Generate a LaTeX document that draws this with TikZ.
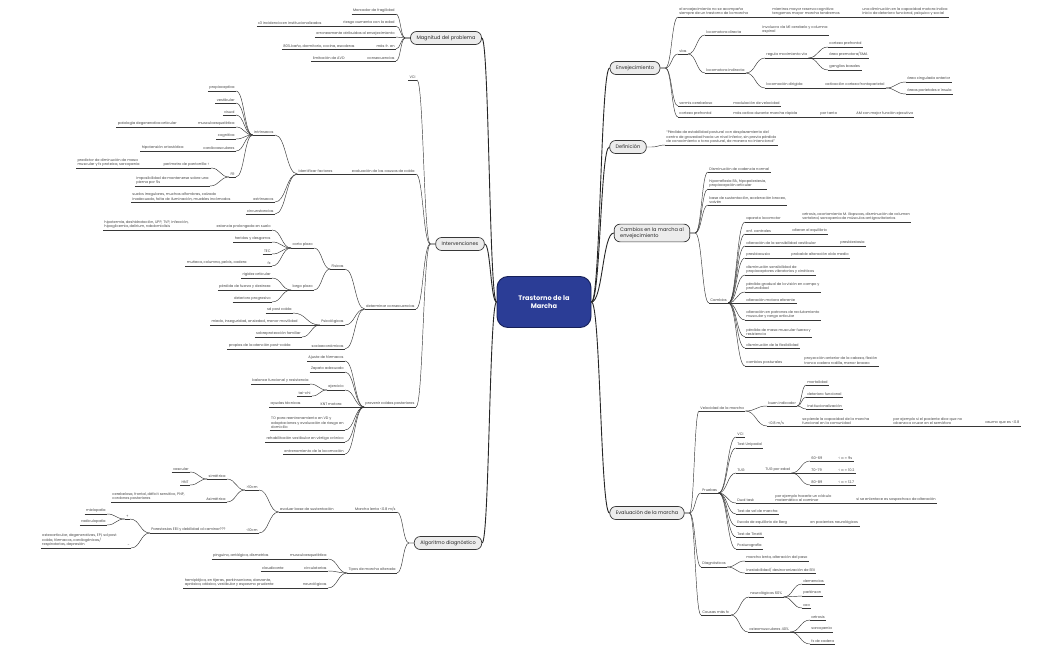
\documentclass[tikz,border=0pt]{standalone}
\usepackage{fontspec}
\setmainfont{Poppins}
\usepackage{tikz}
\usetikzlibrary{positioning,calc}
\definecolor{inkgrey}{RGB}{70,70,70}
\definecolor{linegrey}{RGB}{55,55,55}
\definecolor{topicfill}{RGB}{236,236,236}
\definecolor{rootblue}{RGB}{43,61,150}
\definecolor{rootedge}{RGB}{22,32,88}
\newcommand{\lffont}{\fontsize{3.6}{4.5}\selectfont}
\tikzset{
  lf/.style   ={font=\lffont, text=inkgrey, align=left, inner xsep=1.2pt, inner ysep=0.9pt,
                append after command={(\tikzlastnode.south west) edge[draw=linegrey, line width=0.45pt] (\tikzlastnode.south east)}},
  lfl/.style  ={lf, anchor=south east},
  lfr/.style  ={lf, anchor=south west},
  topic/.style={draw=linegrey, fill=topicfill, rounded corners=6pt, line width=0.7pt, align=left,
                font=\fontsize{5}{6}\selectfont, text=black!85, inner xsep=6pt, minimum height=13pt},
  root/.style ={draw=rootedge, fill=rootblue, rounded corners=11pt, line width=0.9pt, align=center,
                font=\fontsize{6.6}{8.4}\selectfont\bfseries, text=white, minimum width=94pt, minimum height=51pt},
  lnk/.style  ={to path={let \p1=(\tikztostart), \p2=(\tikztotarget) in
                .. controls ({(\x1+\x2)/2},\y1) and ({(\x1+\x2)/2},\y2) .. (\tikztotarget)}},
  cn/.style   ={draw=linegrey, line width=0.45pt},
  mcn/.style  ={draw=black!85, line width=0.9pt},
}

\begin{document}
\begin{tikzpicture}[x=1pt,y=-1pt]
\fill[white] (0,0) rectangle (1050,650);
\useasboundingbox (0,0) rectangle (1050,650);

\node[root] (root) at (544,302) {Trastorno de la\\Marcha};

% left side
\node[topic] (mag) at (446,38) {Magnitud del problema};
\node[lfl] (m1) at (396,14) {Marcador de fragilidad};
\node[lfl] (m2) at (396,26) {riesgo aumenta con la edad};
\node[lfl] (m2a) at (323,26) {x3 incidencia en institucionalizados};
\node[lfl] (m3) at (396,37) {erroneamente atribuidas al envejecimiento};
\node[lfl] (m4) at (396,49) {más fr. en};
\node[lfl] (m4a) at (356,49) {80\% baño, dormitorio, cocina, escaleras};
\node[lfl] (m5) at (396,61) {consecuencias};
\node[lfl] (m5a) at (346,61) {limitación de AVD};

\node[topic] (int) at (460,244) {Intervenciones};
\node[lfl] (vci) at (417,80) {VCI};
\node[lfl] (eva) at (416,174) {evaluación de las causas de caída};
\node[lfl] (idf) at (334,174) {Identificar factores};
\node[lfl] (intr) at (275,135) {intrínsecos};
\node[lfl] (prop) at (236,91) {propioceptiva};
\node[lfl] (vest) at (236,103) {vestibular};
\node[lfl] (visu) at (236,115) {visual};
\node[lfl] (musc) at (236,127) {musculoesquelética};
\node[lfl] (pdeg) at (178,127) {patología degenerativa articular};
\node[lfl] (cogn) at (236,139) {cognitiva};
\node[lfl] (card) at (236,151) {cardiovasculares};
\node[lfl] (hipo) at (185,151) {hipotensión ortostática};
\node[lfl] (fr) at (236,177) {FR};
\node[lfl] (pant) at (211,168) {perímetro de pantorrilla <};
\node[lfl] (pred) at (141,168) {predictor de diminución de masa\\muscular y fx proteica, sarcopenia};
\node[lfl] (mono) at (210,186) {imposibilidad de mantenerse sobre una\\pierna por 5s};
\node[lfl] (extr) at (275,202) {extrínsecos};
\node[lfl] (suel) at (232,202) {suelos irregulares, muchas alfombras, calzado\\inadecuado, falta de iluminación, muebles incómodos};
\node[lfl] (circ) at (275,214) {circunstancias};

\node[lfl] (det) at (416,309) {determinar consecuencias};
\node[lfl] (fis) at (345,269) {Físicas};
\node[lfl] (cort) at (314,248) {corto plazo};
\node[lfl] (esta) at (272,230) {estancia prolongada en suelo};
\node[lfl] (hipt) at (190,230) {hipotermia, deshidratación, UPP, TVP, infección,\\hipoglicemia, delirium, rabdomiolisis};
\node[lfl] (heri) at (272,242) {heridas y desgarros};
\node[lfl] (tec) at (272,254) {TEC};
\node[lfl] (fx) at (272,266) {fx};
\node[lfl] (muni) at (248,266) {muñeca, columna, pelvis, cadera};
\node[lfl] (larg) at (314,290) {largo plazo};
\node[lfl] (rigi) at (272,278) {rigidez articular};
\node[lfl] (perd) at (272,290) {pérdida de fuerza y destreza};
\node[lfl] (dete) at (272,302) {deterioro progresivo};
\node[lfl] (psic) at (345,325) {Psicológicas};
\node[lfl] (sdpc) at (293,313) {sd post caída};
\node[lfl] (mied) at (299,325) {miedo, inseguridad, ansiedad, menor movilidad};
\node[lfl] (sobr) at (302,337) {sobreprotección familiar};
\node[lfl] (soci) at (345,349) {socioeconómicas};
\node[lfl] (prpc) at (292,349) {propias de la atención post-caída};

\node[lfl] (prev) at (416,407) {prevenir caídas posteriores};
\node[lfl] (ajus) at (345,361) {Ajuste de fármacos};
\node[lfl] (zapa) at (345,372) {Zapato adecuado};
\node[lfl] (ejer) at (345,390) {ejercicio};
\node[lfl] (bala) at (310,384) {balance funcional y resistencia};
\node[lfl] (taic) at (312,396) {tai-chi};
\node[lfl] (knt) at (343,407) {KNT motora};
\node[lfl] (ayud) at (302,407) {ayudas técnicas};
\node[lfl] (tord) at (345,430) {TO para reentrenamiento en VD y\\adaptaciones y evaluación de riesgo en\\domicilio};
\node[lfl] (rehb) at (345,442) {rehabilitación vestibular en vértigo crónico};
\node[lfl] (entr) at (345,454) {entrenamiento de la locomoción};

\node[topic] (alg) at (448,543) {Algoritmo diagnóstico};
\node[lfl] (lent) at (397,512) {Marcha lenta <0.8 m/s};
\node[lfl] (base) at (335,512) {evaluar base de sustentación};
\node[lfl] (may) at (259,490) {>10cm};
\node[lfl] (sime) at (227,479) {simétrica};
\node[lfl] (vasc) at (190,472) {vascular};
\node[lfl] (hnt) at (190,485) {HNT};
\node[lfl] (asim) at (227,502) {Asimétrica};
\node[lfl] (cere) at (186,502) {cerebelosa, frontal, déficit sensitivo, PNP,\\cordones posteriores};
\node[lfl] (men) at (259,533) {<10cm};
\node[lfl] (pare) at (227,533) {Parestesias EEII y debilidad al caminar???};
\node[lfl] (mas) at (130,519) {+};
\node[lfl] (miel) at (107,514) {mielopatía};
\node[lfl] (radi) at (107,525) {radiculopatía};
\node[lfl] (meno) at (131,548) {-};
\node[lfl] (oste) at (118,548) {osteoarticular, degenerativas, EPI, sd post\\caída, fármacos, cardiogénicas/\\respiratorias, depresión};
\node[lfl] (tipo) at (397,573) {Tipos de marcha alterada};
\node[lfl] (tmus) at (328,559) {musculoesquelética};
\node[lfl] (ping) at (270,559) {pinguino, antálgica, dismetrías};
\node[lfl] (tcir) at (328,571) {circulatorias};
\node[lfl] (clau) at (285,571) {claudicante};
\node[lfl] (tneu) at (328,588) {neurológicas};
\node[lfl] (hemi) at (275,588) {hemipléjica, en tijeras, parkinsoniana, danzante,\\apráxica, atáxica, vestibular y espasmo prudente};

% right side
\node[topic] (env) at (635,68) {Envejecimiento};
\node[lfr] (e1) at (678,17) {el envejecimiento no se acompaña\\siempre de un trastorno de la marcha};
\node[lfr] (e1a) at (771,17) {mientras mayor reserva cognitiva\\tengamos mayor marcha tendremos};
\node[lfr] (e1b) at (861,17) {una diminución en la capacidad motora indica\\inicio de deterioro funcional, psíquico y social};
\node[lfr] (vias) at (678,54) {vías};
\node[lfr] (ldir) at (705,35) {locomotora directa};
\node[lfr] (ldra) at (761,35) {involucra vía M1 cerebelo y columna\\espinal};
\node[lfr] (lind) at (705,73) {locomotora indirecta};
\node[lfr] (regu) at (765,58) {regula movimiento vía};
\node[lfr] (cpre) at (828,47) {corteza prefrontal};
\node[lfr] (apre) at (828,58) {área premotora/SMA};
\node[lfr] (gang) at (828,70) {ganglios basales};
\node[lfr] (ldig) at (765,88) {locomoción dirigida};
\node[lfr] (acti) at (824,88) {activación corteza frontoparietal};
\node[lfr] (cing) at (906,82) {área cingulada anterior};
\node[lfr] (pari) at (906,94) {áreas parietales e ínsula};
\node[lfr] (verm) at (678,106) {vermis cerebeloso};
\node[lfr] (modu) at (732,106) {modulación de velocidad};
\node[lfr] (cpf) at (678,117) {corteza prefrontal};
\node[lfr] (mact) at (732,117) {más activa durante marcha rápida};
\node[lfr] (port) at (819,117) {por tanto};
\node[lfr] (amej) at (855,117) {AM con mejor función ejecutiva};

\node[topic] (def) at (628,147) {Definición};
\node[lfr] (defa) at (665,145) {“Pérdida de estabilidad postural con desplazamiento del\\centro de gravedad hacia un nivel inferior, sin previa pérdida\\de conocimiento o tono postural, de manera no intencional”};

\node[topic] (cam) at (652,233) {Cambios en la marcha al\\envejecimiento};
\node[lfr] (cad) at (708,172) {Disminución de cadencia normal};
\node[lfr] (hipr) at (708,189) {hiporreflexia RA, hipopalestesia,\\propiocepción articular};
\node[lfr] (bsus) at (708,205) {base de sustentación, aceleración braceo,\\vaivén};
\node[lfr] (camb) at (709,303) {Cambios};
\node[lfr] (aloc) at (745,222) {aparato locomotor};
\node[lfr] (artr) at (801,222) {artrosis, acortamiento M. iliopsoas, disminución de volumen\\vertebral, sarcopenia de músculos antigravitatorios};
\node[lfr] (enfc) at (745,234) {enf. centrales};
\node[lfr] (alte) at (791,234) {alteran el equilibrio};
\node[lfr] (asen) at (745,246) {alteración de la sensibilidad vestibular};
\node[lfr] (pres) at (839,246) {presbiestasia};
\node[lfr] (pacu) at (745,258) {presbiacusia};
\node[lfr] (poid) at (790,258) {probable alteración oído medio};
\node[lfr] (dsen) at (745,275) {disminución sensibilidad de\\propioceptores vibratorios y cinéticos};
\node[lfr] (pvis) at (745,292) {pérdida gradual de la visión en campo y\\profundidad};
\node[lfr] (amot) at (745,303) {alteración motora eferente};
\node[lfr] (arec) at (745,320) {alteración en patrones de reclutamiento\\muscular y rango articular};
\node[lfr] (pmas) at (745,337) {pérdida de masa muscular fuerza y\\resistencia};
\node[lfr] (dfle) at (745,348) {disminución de la flexibilidad};
\node[lfr] (cpos) at (745,366) {cambios posturales};
\node[lfr] (proy) at (803,366) {proyección anterior de la cabeza, flexión\\tronco cadera rodilla, menor braceo};

\node[topic] (evm) at (647,513) {Evaluación de la marcha};
\node[lfr] (velo) at (699,411) {Velocidad de la marcha};
\node[lfr] (buen) at (767,406) {buen indicador};
\node[lfr] (mort) at (806,385) {mortalidad};
\node[lfr] (dfun) at (806,397) {deterioro funcional};
\node[lfr] (inst) at (806,409) {institucionalización};
\node[lfr] (v08) at (767,426) {<0.8 m/s};
\node[lfr] (spie) at (801,426) {se pierde la capacidad de la marcha\\funcional en la comunidad};
\node[lfr] (pejs) at (892,426) {por ejemplo si el paciente dice que no\\alcanza a cruzar en el semáforo};
\node[lfr] (asum) at (984,426) {asumo que es <0.8};
\node[lfr] (prue) at (701,493) {Pruebas};
\node[lfr] (pvci) at (736,437) {VCI};
\node[lfr] (tuni) at (736,448) {Test Unipodal};
\node[lfr] (tug) at (736,473) {TUG};
\node[lfr] (tuge) at (764,473) {TUG por edad};
\node[lfr] (e60) at (810,461) {60-69};
\node[lfr] (s60) at (837,461) {< o = 9s};
\node[lfr] (e70) at (810,473) {70-79};
\node[lfr] (s70) at (837,473) {< o = 10.2};
\node[lfr] (e80) at (810,485) {80-89};
\node[lfr] (s80) at (837,485) {< o = 12.7};
\node[lfr] (dual) at (736,503) {Dual task};
\node[lfr] (dcal) at (774,503) {por ejemplo hacerle un cálculo\\matemático al caminar};
\node[lfr] (denl) at (855,503) {si se enlentece es sospechoso de alteración};
\node[lfr] (tvel) at (736,514) {Test de vel de marcha};
\node[lfr] (berg) at (736,526) {Escala de equilibrio de Berg};
\node[lfr] (bneu) at (809,526) {en pacientes neurológicos};
\node[lfr] (tine) at (736,537) {Test de Tinetti};
\node[lfr] (post) at (736,549) {Posturografía};
\node[lfr] (diag) at (701,567) {Diagnósticos};
\node[lfr] (mlen) at (745,561) {marcha lenta, alteración del paso};
\node[lfr] (ines) at (745,573) {inestabilidad/ desincronización de EEII};
\node[lfr] (caus) at (701,615) {Causas más fc};
\node[lfr] (neur) at (749,597) {neurológicas 60\%};
\node[lfr] (deme) at (802,584) {demencias};
\node[lfr] (park) at (802,596) {parkinson};
\node[lfr] (acv) at (802,608) {acv};
\node[lfr] (osmu) at (748,632) {osteomusculares 40\%};
\node[lfr] (arto) at (810,620) {artrosis};
\node[lfr] (sarc) at (810,632) {sarcopenia};
\node[lfr] (fxca) at (810,644) {fx de cadera};

% connectors
\foreach \t in {mag,int,alg}
  \draw[mcn] (root.west) to[lnk] (\t.east);
\foreach \t in {env,def,cam,evm}
  \draw[mcn] (root.east) to[lnk] (\t.west);

\foreach \t/\c in {mag/m1,mag/m2,mag/m3,mag/m4,mag/m5,int/vci,int/eva,int/det,int/prev,alg/lent,alg/tipo}
  \draw[cn] (\t.west) -- ++(-5,0) to[lnk] (\c.south east);
\foreach \t/\c in {env/e1,env/vias,env/verm,env/cpf,def/defa,cam/cad,cam/hipr,cam/bsus,cam/camb,
                   evm/velo,evm/prue,evm/diag,evm/caus}
  \draw[cn] (\t.east) -- ++(5,0) to[lnk] (\c.south west);

\foreach \p/\c in {m2/m2a,m4/m4a,m5/m5a,eva/idf,idf/intr,idf/extr,idf/circ,
                   intr/prop,intr/vest,intr/visu,intr/musc,intr/cogn,intr/card,intr/fr,
                   musc/pdeg,card/hipo,fr/pant,fr/mono,pant/pred,extr/suel,
                   det/fis,det/psic,det/soci,fis/cort,fis/larg,
                   cort/esta,cort/heri,cort/tec,cort/fx,esta/hipt,fx/muni,
                   larg/rigi,larg/perd,larg/dete,psic/sdpc,psic/mied,psic/sobr,soci/prpc,
                   prev/ajus,prev/zapa,prev/ejer,prev/knt,prev/tord,prev/rehb,prev/entr,
                   ejer/bala,ejer/taic,knt/ayud,
                   lent/base,base/may,base/men,may/sime,may/asim,sime/vasc,sime/hnt,asim/cere,
                   men/pare,pare/mas,pare/meno,mas/miel,mas/radi,meno/oste,
                   tipo/tmus,tipo/tcir,tipo/tneu,tmus/ping,tcir/clau,tneu/hemi}
  \draw[cn] (\p.south west) to[lnk] (\c.south east);

\foreach \p/\c in {e1/e1a,e1a/e1b,vias/ldir,vias/lind,ldir/ldra,lind/regu,lind/ldig,
                   regu/cpre,regu/apre,regu/gang,ldig/acti,acti/cing,acti/pari,
                   verm/modu,cpf/mact,mact/port,port/amej,
                   camb/aloc,camb/enfc,camb/asen,camb/pacu,camb/dsen,camb/pvis,camb/amot,
                   camb/arec,camb/pmas,camb/dfle,camb/cpos,
                   aloc/artr,enfc/alte,asen/pres,pacu/poid,cpos/proy,
                   velo/buen,velo/v08,buen/mort,buen/dfun,buen/inst,v08/spie,spie/pejs,pejs/asum,
                   prue/pvci,prue/tuni,prue/tug,prue/dual,prue/tvel,prue/berg,prue/tine,prue/post,
                   tug/tuge,tuge/e60,tuge/e70,tuge/e80,e60/s60,e70/s70,e80/s80,
                   dual/dcal,dcal/denl,berg/bneu,diag/mlen,diag/ines,
                   caus/neur,caus/osmu,neur/deme,neur/park,neur/acv,osmu/arto,osmu/sarc,osmu/fxca}
  \draw[cn] (\p.south east) to[lnk] (\c.south west);
\end{tikzpicture}
\end{document}
